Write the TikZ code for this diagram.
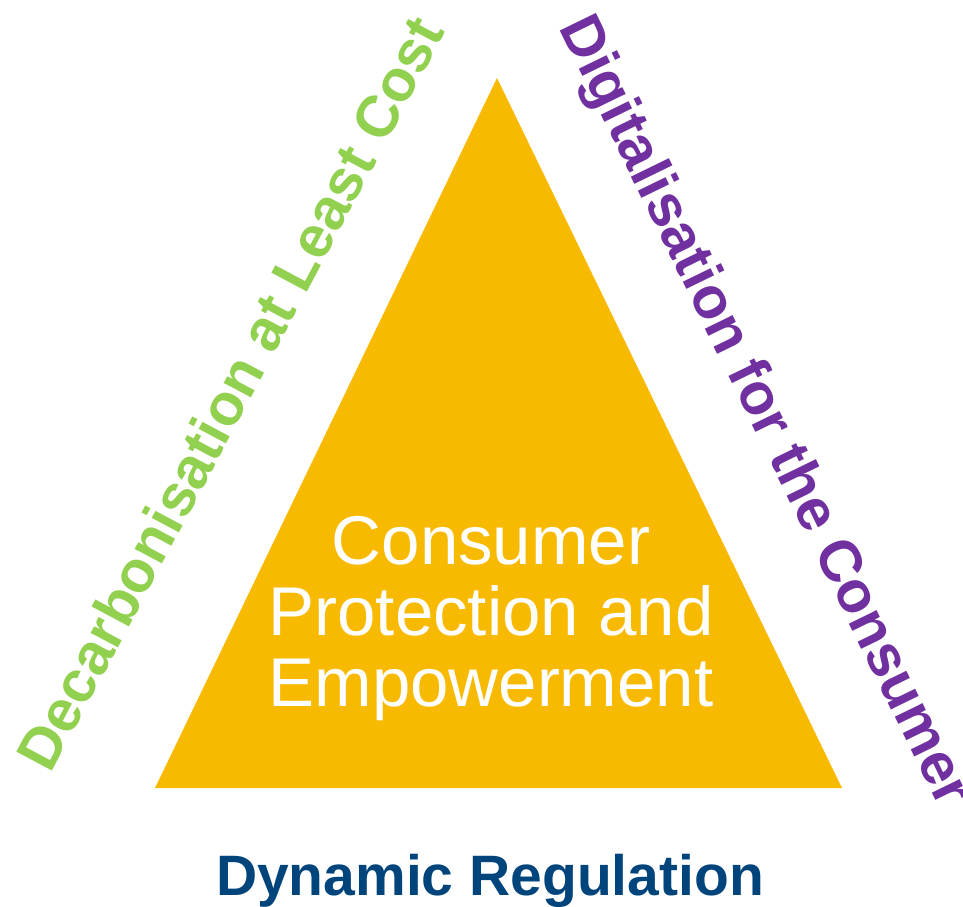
\documentclass[tikz,border=0pt]{standalone}
\usepackage{fontspec}
\setmainfont{Liberation Sans}
\usepackage{xcolor}
\usetikzlibrary{positioning}
\definecolor{coreyellow}{HTML}{F8BA00}
\definecolor{decarbgreen}{HTML}{92D050}
\definecolor{digipurple}{HTML}{7030A0}
\definecolor{regblue}{HTML}{00447C}
\tikzstyle{core} = [text=white, align=center, inner sep=0pt, font=\fontsize{69}{71}\selectfont]
\tikzstyle{pillar} = [inner sep=0pt, font=\bfseries\fontsize{57}{60}\selectfont]
\tikzstyle{sidepillar} = [pillar, font=\bfseries\fontsize{58.5}{60}\selectfont]

\begin{document}
\begin{tikzpicture}[x=1pt, y=1pt]
\useasboundingbox (0,0) rectangle (963,906);

% Triangle corners
\coordinate (apex) at (497,828);
\coordinate (baseleft) at (155,118);
\coordinate (baseright) at (842,118);
\fill[coreyellow] (apex) -- (baseleft) -- (baseright) -- cycle;

% Centre text
\node[core] (consumer) at (491,287) {Consumer\\Protection and\\Empowerment};

% Side labels
\node[sidepillar, text=decarbgreen, rotate=62] (decarb) at (230,513) {Decarbonisation at Least Cost};
\node[sidepillar, text=digipurple, rotate=-64] (digital) at (763,494) {Digitalisation for the Consumer};

% Bottom label
\node[pillar, text=regblue, anchor=base] (dynreg) at (490,11) {Dynamic Regulation};

\end{tikzpicture}
\end{document}
